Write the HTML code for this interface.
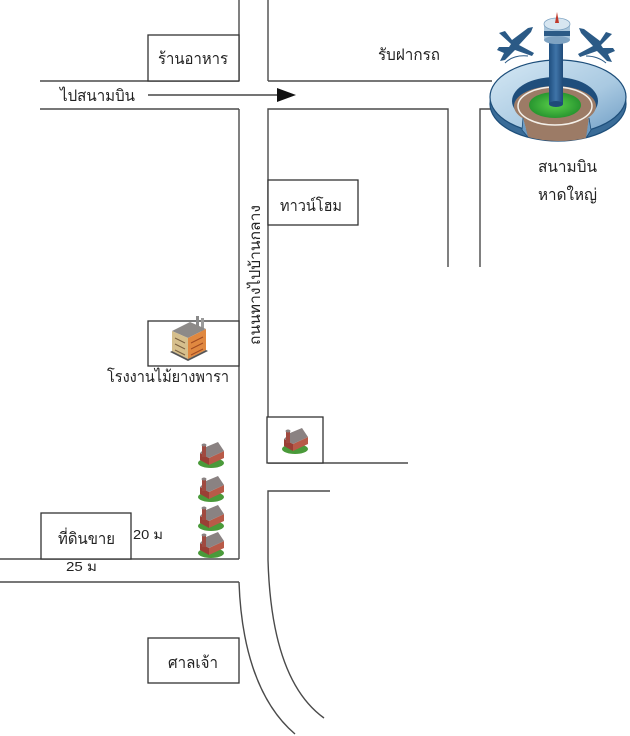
<!DOCTYPE html>
<html><head><meta charset="utf-8">
<style>
html,body{margin:0;padding:0;background:#fff;}
svg{display:block;}
text{font-family:"Liberation Sans","DejaVu Sans",sans-serif;fill:#222;}
</style></head>
<body>
<svg width="630" height="736" viewBox="0 0 630 736" xmlns="http://www.w3.org/2000/svg">
<defs>
<linearGradient id="ringTop" x1="0" y1="0" x2="1" y2="1">
<stop offset="0" stop-color="#d6e9f5"/><stop offset="0.6" stop-color="#a9c9e1"/><stop offset="1" stop-color="#6d9cc4"/>
</linearGradient>
<linearGradient id="col" x1="0" y1="0" x2="1" y2="0">
<stop offset="0" stop-color="#1f4f80"/><stop offset="0.5" stop-color="#3f74a8"/><stop offset="1" stop-color="#1f4a78"/>
</linearGradient>
<radialGradient id="grn" cx="0.5" cy="0.5" r="0.6">
<stop offset="0" stop-color="#5ad04a"/><stop offset="1" stop-color="#1e8a2a"/>
</radialGradient>
</defs>

<g fill="none" stroke="#4a4a4a" stroke-width="1.4">
<line x1="239" y1="0" x2="239" y2="81"/>
<line x1="268" y1="0" x2="268" y2="81"/>
<line x1="40" y1="81" x2="239" y2="81"/>
<line x1="268" y1="81" x2="492" y2="81"/>
<line x1="40" y1="109" x2="239" y2="109"/>
<polyline points="268,463 268,109 448,109 448,267"/>
<polyline points="480,267 480,109 493,109"/>
<line x1="239" y1="109" x2="239" y2="559"/>
<line x1="268" y1="463" x2="408" y2="463"/>
<line x1="0" y1="559" x2="239" y2="559"/>
<polyline points="0,582 239,582"/>
<path d="M239,582 C241,640 255,700 295,734"/>
<path d="M330,491 L268,491 L268,560 C270,630 285,690 324,718"/>
</g>

<g fill="#fff" stroke="#333" stroke-width="1.3">
<rect x="148" y="35" width="91" height="46"/>
<rect x="268" y="180" width="90" height="45"/>
<rect x="148" y="321" width="91" height="45"/>
<rect x="267" y="417" width="56" height="46"/>
<rect x="41" y="513" width="90" height="46"/>
<rect x="148" y="638" width="91" height="45"/>
</g>

<line x1="148" y1="95" x2="279" y2="95" stroke="#222" stroke-width="1.3"/>
<polygon points="277,88 296,95 277,102" fill="#111"/>

<text x="193" y="64" font-size="16" text-anchor="middle" textLength="70" lengthAdjust="spacingAndGlyphs">ร้านอาหาร</text>
<text x="60" y="101" font-size="16" textLength="75" lengthAdjust="spacingAndGlyphs">ไปสนามบิน</text>
<text x="378" y="60" font-size="16" textLength="62" lengthAdjust="spacingAndGlyphs">รับฝากรถ</text>
<text x="311" y="211" font-size="16" text-anchor="middle" textLength="62" lengthAdjust="spacingAndGlyphs">ทาวน์โฮม</text>
<text x="538" y="172" font-size="16" textLength="59" lengthAdjust="spacingAndGlyphs">สนามบิน</text>
<text x="538" y="200" font-size="16" textLength="59" lengthAdjust="spacingAndGlyphs">หาดใหญ่</text>
<text x="107" y="382" font-size="16" textLength="122" lengthAdjust="spacingAndGlyphs">โรงงานไม้ยางพารา</text>
<text x="58" y="544" font-size="16" textLength="57" lengthAdjust="spacingAndGlyphs">ที่ดินขาย</text>
<text x="133" y="539" font-size="13" textLength="30" lengthAdjust="spacingAndGlyphs">20 ม</text>
<text x="66" y="571" font-size="13" textLength="31" lengthAdjust="spacingAndGlyphs">25 ม</text>
<text x="168" y="668" font-size="16" textLength="50" lengthAdjust="spacingAndGlyphs">ศาลเจ้า</text>
<text transform="translate(260,275) rotate(-90)" x="0" y="0" font-size="15" text-anchor="middle" textLength="140" lengthAdjust="spacingAndGlyphs">ถนนทางไปบ้านกลาง</text>

<!-- airport -->
<g>
<g fill="#2b5a86">
<polygon points="499,33 505,31 512,40 528,28 533,27 531,32 519,45 534,53 532,56 515,50 505,60 500,61 504,53 497,50 499,47 509,47 511,44"/>
<polygon points="612,34 606,32 600,41 584,29 579,28 581,33 593,46 578,54 580,57 597,51 607,61 612,62 608,54 615,51 613,48 603,48 601,45"/>
</g>
<path d="M505,63 C510,58 518,55 528,56" stroke="#2b5a86" stroke-width="1" fill="none"/>
<path d="M606,63 C600,58 594,56 586,56" stroke="#2b5a86" stroke-width="1" fill="none"/>
<ellipse cx="558" cy="104" rx="68" ry="37" fill="#3a6c98" stroke="#1d4e7a" stroke-width="1.2"/>
<ellipse cx="558" cy="97" rx="68" ry="37" fill="url(#ringTop)" stroke="#1d4e7a" stroke-width="1.2"/>
<ellipse cx="555" cy="101" rx="43" ry="24" fill="#1f4e7c"/>
<ellipse cx="555" cy="106" rx="41" ry="20" fill="#9c7b66"/>
<!-- front gap -->
<path d="M523,118 L528,137 A68,37 0 0 0 586,138 L589,118 Q556,130 523,118 Z" fill="#9c7b66"/>
<path d="M523,118 L522,130 L528,137" fill="#6d9cc4" stroke="#1d4e7a" stroke-width="0.8"/>
<path d="M589,118 L591,130 L586,138" fill="#6d9cc4" stroke="#1d4e7a" stroke-width="0.8"/>
<ellipse cx="555" cy="106" rx="37" ry="19" fill="none" stroke="#f4f0ea" stroke-width="1.5"/>
<ellipse cx="555" cy="105" rx="26" ry="13" fill="url(#grn)"/>
<rect x="549" y="38" width="14" height="66" fill="url(#col)"/>
<ellipse cx="556" cy="104" rx="7" ry="3" fill="#1f4a78"/>
<rect x="544" y="24" width="26" height="16" fill="#aac6dc"/>
<rect x="544" y="31" width="26" height="5" fill="#2b5a86"/>
<ellipse cx="557" cy="40" rx="13" ry="4" fill="#7fa3c2"/>
<ellipse cx="557" cy="24" rx="13" ry="6" fill="#d7e6f1" stroke="#7fa3c2" stroke-width="0.8"/>
<polygon points="557,12 555,23 559,23" fill="#c0392b"/>
</g>

<!-- factory -->
<g>
<rect x="196" y="316" width="3" height="16" fill="#8a8a8a"/>
<rect x="201" y="318" width="3" height="16" fill="#9a9a9a"/>
<polygon points="172,331 190,322 206,329 188,338" fill="#8d8a88"/>
<polygon points="172,331 188,338 188,359 172,351" fill="#d6bf8c"/>
<polygon points="188,338 206,329 206,350 188,359" fill="#e08840"/>
<g stroke="#7a6040" stroke-width="1">
<line x1="175" y1="338" x2="185" y2="343"/>
<line x1="175" y1="344" x2="185" y2="349"/>
<line x1="175" y1="350" x2="185" y2="355"/>
</g>
<g stroke="#a04a20" stroke-width="1">
<line x1="191" y1="343" x2="203" y2="337"/>
<line x1="191" y1="349" x2="203" y2="343"/>
<line x1="191" y1="355" x2="203" y2="349"/>
</g>
<polygon points="170,352 188,361 208,351 206,350 188,359 172,351" fill="#555"/>
</g>

<!-- houses -->
<g transform="translate(197,442)">
<ellipse cx="14" cy="21" rx="13" ry="5" fill="#4a9a3a"/>
<polygon points="3,11 12,16 12,23 3,18" fill="#9a3f35"/>
<polygon points="12,16 27,9 27,16 12,23" fill="#b85a48"/>
<polygon points="3,11 9,5 21,0 27,9 12,16" fill="#8a8282"/>
<rect x="5" y="3" width="4" height="12" fill="#a04a40"/>
<ellipse cx="7" cy="3" rx="2.5" ry="1.5" fill="#8a8282"/>
</g>
<g transform="translate(197,476)">
<ellipse cx="14" cy="21" rx="13" ry="5" fill="#4a9a3a"/>
<polygon points="3,11 12,16 12,23 3,18" fill="#9a3f35"/>
<polygon points="12,16 27,9 27,16 12,23" fill="#b85a48"/>
<polygon points="3,11 9,5 21,0 27,9 12,16" fill="#8a8282"/>
<rect x="5" y="3" width="4" height="12" fill="#a04a40"/>
<ellipse cx="7" cy="3" rx="2.5" ry="1.5" fill="#8a8282"/>
</g>
<g transform="translate(197,505)">
<ellipse cx="14" cy="21" rx="13" ry="5" fill="#4a9a3a"/>
<polygon points="3,11 12,16 12,23 3,18" fill="#9a3f35"/>
<polygon points="12,16 27,9 27,16 12,23" fill="#b85a48"/>
<polygon points="3,11 9,5 21,0 27,9 12,16" fill="#8a8282"/>
<rect x="5" y="3" width="4" height="12" fill="#a04a40"/>
<ellipse cx="7" cy="3" rx="2.5" ry="1.5" fill="#8a8282"/>
</g>
<g transform="translate(197,532)">
<ellipse cx="14" cy="21" rx="13" ry="5" fill="#4a9a3a"/>
<polygon points="3,11 12,16 12,23 3,18" fill="#9a3f35"/>
<polygon points="12,16 27,9 27,16 12,23" fill="#b85a48"/>
<polygon points="3,11 9,5 21,0 27,9 12,16" fill="#8a8282"/>
<rect x="5" y="3" width="4" height="12" fill="#a04a40"/>
<ellipse cx="7" cy="3" rx="2.5" ry="1.5" fill="#8a8282"/>
</g>
<g transform="translate(281,428)">
<ellipse cx="14" cy="21" rx="13" ry="5" fill="#4a9a3a"/>
<polygon points="3,11 12,16 12,23 3,18" fill="#9a3f35"/>
<polygon points="12,16 27,9 27,16 12,23" fill="#b85a48"/>
<polygon points="3,11 9,5 21,0 27,9 12,16" fill="#8a8282"/>
<rect x="5" y="3" width="4" height="12" fill="#a04a40"/>
<ellipse cx="7" cy="3" rx="2.5" ry="1.5" fill="#8a8282"/>
</g>
</svg>
</body></html>
